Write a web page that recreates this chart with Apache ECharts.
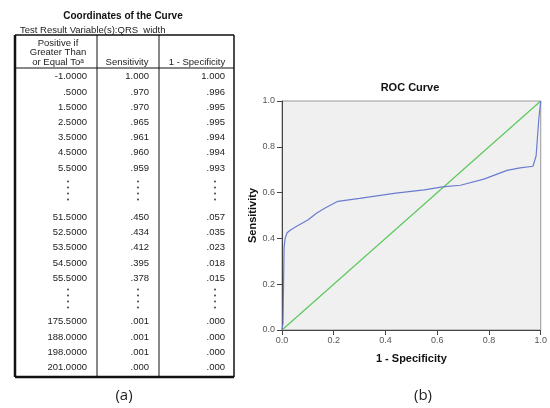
<!DOCTYPE html>
<html>
<head>
<meta charset="utf-8">
<script src="https://cdn.jsdelivr.net/npm/echarts@6/dist/echarts.min.js"></script>
<style>
  html, body { margin: 0; padding: 0; background: #fff; }
  #main { width: 550px; height: 408px; }
</style>
</head>
<body>
<div id="main"></div>
<script>
// table (a): rows in three blocks, ellipsis between blocks
const cutoffs = [
  ["-1.0000", ".5000", "1.5000", "2.5000", "3.5000", "4.5000", "5.5000"],
  ["51.5000", "52.5000", "53.5000", "54.5000", "55.5000"],
  ["175.5000", "188.0000", "198.0000", "201.0000"]
];
const sensitivity = [
  ["1.000", ".970", ".970", ".965", ".961", ".960", ".959"],
  [".450", ".434", ".412", ".395", ".378"],
  [".001", ".001", ".001", ".000"]
];
const oneMinusSpec = [
  ["1.000", ".996", ".995", ".995", ".994", ".994", ".993"],
  [".057", ".035", ".023", ".018", ".015"],
  [".000", ".000", ".000", ".000"]
];

// chart (b): ROC curve
const rocFpr  = [0, 0.004, 0.006, 0.008, 0.012, 0.02, 0.033, 0.06, 0.1, 0.133, 0.17, 0.216, 0.3, 0.44, 0.55, 0.62, 0.69, 0.78, 0.87, 0.92, 0.97, 0.982, 0.993, 1.0];
const rocSens = [0, 0.03, 0.2, 0.36, 0.40, 0.425, 0.437, 0.455, 0.48, 0.51, 0.535, 0.562, 0.575, 0.598, 0.612, 0.625, 0.632, 0.659, 0.697, 0.708, 0.715, 0.76, 0.928, 1.0];
const refFpr  = [0, 1];
const refSens = [0, 1];

const tFont = '9.5px "Liberation Sans", Arial, sans-serif';
const ink = "#222";

// table layout
const tl = 15, tr = 234, tt = 35, tb = 377;
const col1 = 97, col2 = 159;
const rowStep = 15.2;
const blockStart = [76.8, 217.3, 321.7];
const dotsY = [190.5, 298.5];

let g = [];
function txt(x, y, s, align, font, fill) {
  g.push({ type: "text", silent: true, style: {
    x: x, y: y, text: s, align: align || "right", verticalAlign: "middle",
    font: font || tFont, fill: fill || ink } });
}
function line(x1, y1, x2, y2, w) {
  g.push({ type: "line", silent: true, shape: { x1: x1, y1: y1, x2: x2, y2: y2 },
    style: { stroke: "#111", lineWidth: w || 1 } });
}

txt(123, 16, "Coordinates of the Curve", "center", 'bold 10px "Liberation Sans", Arial, sans-serif', "#111");
txt(20, 30, "Test Result Variable(s):QRS  width", "left");
line(tl, tt, tr, tt, 1.5);
line(tl, tt, tl, tb, 2.5);
line(tr, tt, tr, tb, 1.5);
line(tl, tb, tr, tb, 2.5);
line(col1, tt, col1, tb, 1);
line(col2, tt, col2, tb, 1);
line(tl, 68, tr, 68, 1);

txt(58, 43, "Positive if", "center");
txt(58, 52.5, "Greater Than", "center");
txt(58, 62, "or Equal To\u1d43", "center");
txt(127, 62, "Sensitivity", "center");
txt(197, 62, "1 - Specificity", "center");

cutoffs.forEach(function (blk, b) {
  blk.forEach(function (v, i) {
    const y = blockStart[b] + i * rowStep;
    txt(87, y, v);
    txt(149, y, sensitivity[b][i]);
    txt(225, y, oneMinusSpec[b][i]);
  });
});
dotsY.forEach(function (y) {
  [68, 138, 215].forEach(function (x) {
    [-9, -3, 3, 9].forEach(function (d) {
      g.push({ type: "circle", silent: true, shape: { cx: x, cy: y + d, r: 0.9 },
        style: { fill: "#333" } });
    });
  });
});

txt(124, 396, "(a)", "center", '15px "Open Sans", sans-serif', "#222");
txt(423, 396, "(b)", "center", '15px "Open Sans", sans-serif', "#222");

const chart = echarts.init(document.getElementById("main"));
const axisCommon = {
  type: "value",
  min: 0,
  max: 1,
  interval: 0.2,
  nameLocation: "middle",
  nameTextStyle: { fontFamily: "Liberation Sans", fontWeight: "bold", fontSize: 11, color: "#111" },
  axisLine: { show: true, lineStyle: { color: "#444", width: 1 } },
  axisTick: { show: true, length: 5, lineStyle: { color: "#444" } },
  axisLabel: { fontFamily: "Liberation Sans", fontSize: 9, color: "#555",
    formatter: function (v) { return v.toFixed(1); } },
  splitLine: { show: false }
};
chart.setOption({
  animation: false,
  title: {
    text: "ROC Curve",
    left: 405, top: 77, textAlign: "center",
    textStyle: { fontFamily: "Liberation Sans", fontWeight: "bold", fontSize: 11, color: "#111" }
  },
  grid: {
    left: 282, right: 9, top: 101, bottom: 78,
    show: true, backgroundColor: "#f0f0f0", borderColor: "#999", borderWidth: 1
  },
  xAxis: Object.assign({}, axisCommon, { name: "1 - Specificity", nameGap: 23,
    axisLabel: Object.assign({}, axisCommon.axisLabel, { margin: 6 }) }),
  yAxis: Object.assign({}, axisCommon, { name: "Sensitivity", nameGap: 22,
    axisLabel: Object.assign({}, axisCommon.axisLabel, { margin: 7 }) }),
  series: [
    {
      type: "line",
      data: refFpr.map(function (x, i) { return [x, refSens[i]]; }),
      symbol: "none",
      lineStyle: { color: "#5cc85c", width: 1.2 }
    },
    {
      type: "line",
      data: rocFpr.map(function (x, i) { return [x, rocSens[i]]; }),
      symbol: "none",
      lineStyle: { color: "#6a7ccf", width: 1.2 }
    }
  ],
  graphic: g
});
</script>
</body>
</html>
